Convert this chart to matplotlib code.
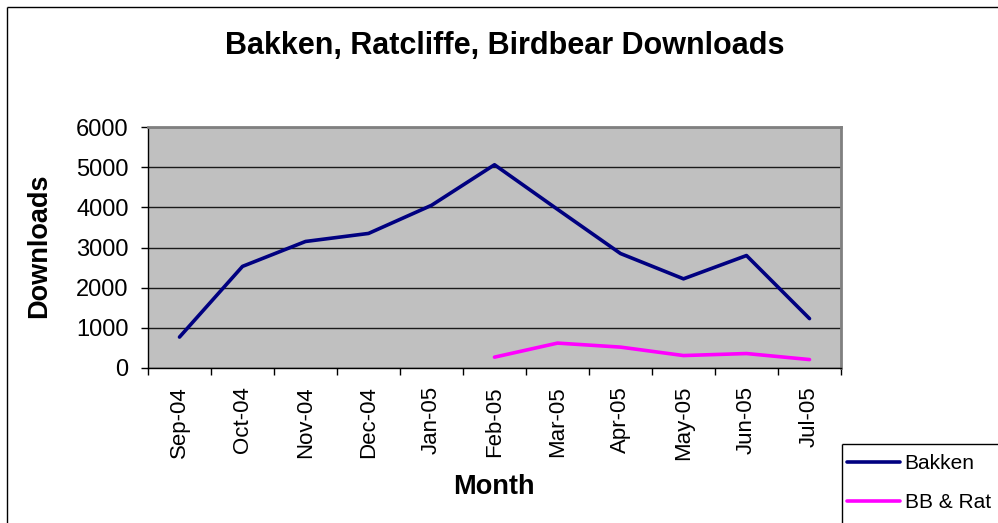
import matplotlib
matplotlib.use("Agg")
import matplotlib.pyplot as plt
from matplotlib.lines import Line2D
from matplotlib.ticker import FixedLocator

plt.rcParams['font.family'] = ['Liberation Sans', 'DejaVu Sans']

months = ['Sep-04', 'Oct-04', 'Nov-04', 'Dec-04', 'Jan-05', 'Feb-05',
          'Mar-05', 'Apr-05', 'May-05', 'Jun-05', 'Jul-05']
bakken = [770, 2530, 3150, 3350, 4050, 5060, 3950, 2850, 2220, 2800, 1230]
bb_rat_months = ['Feb-05', 'Mar-05', 'Apr-05', 'May-05', 'Jun-05', 'Jul-05']
bb_rat = [270, 620, 520, 310, 360, 210]
yticks = [0, 1000, 2000, 3000, 4000, 5000, 6000]

W, H = 998, 523
fig = plt.figure(figsize=(W / 100, H / 100), dpi=100)


def edge(x0, y0, x1, y1):
    # pixel coords from top-left, only the visible edges of the clipped boxes
    fig.add_artist(Line2D([x0 / W, x1 / W], [1 - y0 / H, 1 - y1 / H],
                          transform=fig.transFigure, color='black', linewidth=1.0,
                          solid_capstyle='butt', zorder=5))


# outer chart border: top + left only (runs off right/bottom in the original)
edge(6.5, 6.5, W + 30, 6.5)
edge(6.5, 6.5, 6.5, H + 30)
# legend box, also running off the right/bottom edge
edge(841.5, 443.5, W + 30, 443.5)
edge(841.5, 443.5, 841.5, H + 30)

left, right, top, bottom = 148, 841, 127, 368
ax = fig.add_axes([left / W, 1 - bottom / H, (right - left) / W, (bottom - top) / H])
ax.set_facecolor('#C0C0C0')

lw = 2.6
x = list(range(len(months)))
xb = [months.index(m) for m in bb_rat_months]
ax.plot(x, bakken, color='#000080', linewidth=lw, solid_capstyle='round', label='Bakken')
ax.plot(xb, bb_rat, color='#FF00FF', linewidth=lw, solid_capstyle='round', label='BB & Rat')

ax.set_xlim(-0.5, len(months) - 0.5)
ax.set_ylim(0, 6000)
ax.set_yticks(yticks)
ax.set_yticklabels([str(v) for v in yticks])
ax.set_xticks(x)
ax.set_xticklabels(months, rotation=90, va='top', ha='center')
ax.xaxis.set_minor_locator(FixedLocator([i + 0.5 for i in range(-1, len(months))]))
ax.tick_params(axis='x', which='major', length=0, pad=13, labelsize=16)
ax.tick_params(axis='x', which='minor', length=5, width=1, direction='out')
ax.tick_params(axis='y', length=5, width=1, direction='out', pad=9, labelsize=17)

ax.grid(axis='y', color='#1a1a1a', linewidth=1)
ax.set_axisbelow(True)
for s in ['top', 'right']:
    ax.spines[s].set_color('#808080')
    ax.spines[s].set_linewidth(2)
for s in ['left', 'bottom']:
    ax.spines[s].set_color('black')
    ax.spines[s].set_linewidth(1)

fig.text(505 / W, 1 - 46 / H, 'Bakken, Ratcliffe, Birdbear Downloads',
         ha='center', va='center', fontsize=22, fontweight='bold')
fig.text(494 / W, 1 - 487 / H, 'Month', ha='center', va='center', fontsize=19.5, fontweight='bold')
fig.text(39 / W, 1 - 246 / H, 'Downloads', ha='center', va='center', rotation=90,
         fontsize=19.5, fontweight='bold')

leg = fig.legend(loc='upper left', bbox_to_anchor=(836 / W, 1 - 443 / H), fontsize=15,
                 frameon=False, handlelength=2.5, handletextpad=0.25,
                 labelspacing=0.95, borderpad=0.55, borderaxespad=0)
for line in leg.get_lines():
    line.set_linewidth(lw)

fig.savefig('out.png', dpi=100, facecolor='white')
